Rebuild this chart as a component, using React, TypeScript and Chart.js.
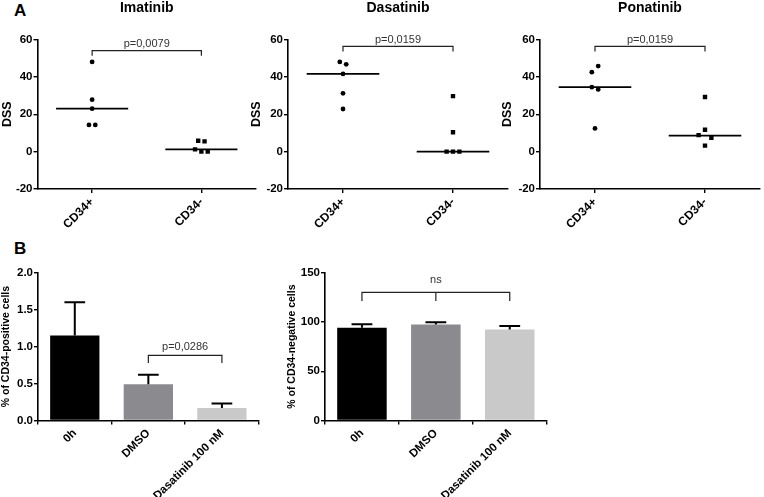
import React, { useEffect, useRef } from "react";
import { Chart, registerables } from "chart.js";

Chart.register(...registerables);

// ---------- Data (panel A: drug sensitivity scores) ----------
const DSS_GROUPS = ["CD34+", "CD34-"];
const DSS_TICKS = [-20, 0, 20, 40, 60];

const IMATINIB_CD34_POS = [48, 27.8, 23, 14.3, 14.3];
const IMATINIB_CD34_NEG = [5.8, 5.5, 1.2, 0, 0];
const IMATINIB_MEDIANS = [23, 1.2];

const DASATINIB_CD34_POS = [48, 46.7, 41.6, 31.2, 22.8];
const DASATINIB_CD34_NEG = [29.7, 10.4, 0, 0, 0];
const DASATINIB_MEDIANS = [41.6, 0];

const PONATINIB_CD34_POS = [42.5, 45.8, 34.5, 33.3, 12.4];
const PONATINIB_CD34_NEG = [29.2, 8.8, 11.7, 7.4, 3.2];
const PONATINIB_MEDIANS = [34.5, 8.6];

const DSS_P_LABELS = ["p=0,0079", "p=0,0159", "p=0,0159"];
const DSS_BRACKET_Y = [54, 56.3, 56.3];

// ---------- Data (panel B: % of cells) ----------
const TREATMENTS = ["0h", "DMSO", "Dasatinib 100 nM"];
const CD34_POS_PCT = [1.15, 0.49, 0.17];
const CD34_POS_ERR = [0.45, 0.13, 0.06];
const CD34_POS_TICKS = [0, 0.5, 1, 1.5, 2];
const CD34_NEG_PCT = [94.2, 97.5, 92.4];
const CD34_NEG_ERR = [3.5, 2.3, 3.6];
const CD34_NEG_TICKS = [0, 50, 100, 150];

const FONT = "'Liberation Sans', Arial, Helvetica, sans-serif";
const BAR_COLORS = ["#000000", "#8b8b8f", "#c9c9c9"];

Chart.defaults.font.family = FONT;
Chart.defaults.color = "#000";

type Bracket = { from: number; to: number; y: number; label: string; drop: number; gap: number; mid?: boolean };

function xPixel(chart: any, idx: number) {
  const xs = chart.scales.x;
  return xs.type === "category" ? xs.getPixelForValue(idx) : xs.getPixelForValue(idx + 1);
}

function bracketPlugin(items: Bracket[]) {
  return {
    id: "brackets",
    afterDatasetsDraw(chart: any) {
      const { ctx } = chart;
      const ys = chart.scales.y;
      ctx.save();
      items.forEach((b) => {
        const x1 = xPixel(chart, b.from);
        const x2 = xPixel(chart, b.to);
        const y = ys.getPixelForValue(b.y);
        ctx.strokeStyle = "#222";
        ctx.lineWidth = 1.2;
        ctx.beginPath();
        ctx.moveTo(x1, y + b.drop);
        ctx.lineTo(x1, y);
        ctx.lineTo(x2, y);
        ctx.lineTo(x2, y + b.drop);
        if (b.mid) {
          const xm = (x1 + x2) / 2;
          ctx.moveTo(xm, y);
          ctx.lineTo(xm, y + b.drop);
        }
        ctx.stroke();
        ctx.fillStyle = "#333";
        ctx.font = `11px ${FONT}`;
        ctx.textAlign = "center";
        ctx.textBaseline = "middle";
        ctx.fillText(b.label, (x1 + x2) / 2, y - b.gap);
      });
      ctx.restore();
    },
  };
}

function errorBarPlugin(errors: number[], values: number[]) {
  return {
    id: "errorbars",
    afterDatasetsDraw(chart: any) {
      const { ctx } = chart;
      const ys = chart.scales.y;
      const meta = chart.getDatasetMeta(0);
      ctx.save();
      ctx.strokeStyle = "#000";
      ctx.lineWidth = 2;
      meta.data.forEach((bar: any, i: number) => {
        const top = ys.getPixelForValue(values[i] + errors[i]);
        const half = bar.width * 0.21;
        ctx.beginPath();
        ctx.moveTo(bar.x, bar.y);
        ctx.lineTo(bar.x, top);
        ctx.moveTo(bar.x - half, top);
        ctx.lineTo(bar.x + half, top);
        ctx.stroke();
      });
      ctx.restore();
    },
  };
}

// spread points with nearly equal values sideways (like a column scatter)
function jitter(values: number[], center: number) {
  const STEP = 0.058;
  const THRESH = 3.5;
  const order = values.map((v, i) => i).sort((a, b) => values[b] - values[a]);
  const clusters: number[][] = [];
  order.forEach((i) => {
    const last = clusters[clusters.length - 1];
    if (last && Math.abs(values[last[last.length - 1]] - values[i]) < THRESH) last.push(i);
    else clusters.push([i]);
  });
  const xs = new Array(values.length).fill(center);
  clusters.forEach((c) => {
    const sorted = [...c].sort((a, b) => a - b);
    sorted.forEach((idx, k) => {
      xs[idx] = center + (k - (sorted.length - 1) / 2) * STEP;
    });
  });
  return values.map((v, i) => ({ x: xs[i], y: v }));
}

function axisBase() {
  return {
    border: { display: true, color: "#000", width: 1.6 },
    grid: { drawOnChartArea: false, drawTicks: true, tickLength: 4, color: "#000", lineWidth: 1.4 },
  };
}

function dssConfig(title: string, pos: number[], neg: number[], medians: number[], pLabel: string, bracketY: number, yWidth: number): any {
  const HALF = 0.33;
  const medianSets = medians.map((m, i) => ({
    type: "scatter",
    data: [
      { x: i + 1 - HALF, y: m },
      { x: i + 1 + HALF, y: m },
    ],
    showLine: true,
    borderColor: "#000",
    borderWidth: 1.8,
    pointRadius: 0,
  }));
  return {
    type: "scatter",
    data: {
      datasets: [
        { data: jitter(pos, 1), pointStyle: "circle", radius: 2.4, backgroundColor: "#000", borderWidth: 0 },
        { data: jitter(neg, 2), pointStyle: "rect", radius: 3.1, backgroundColor: "#000", borderWidth: 0 },
        ...medianSets,
      ],
    },
    options: {
      responsive: false,
      animation: false,
      events: [],
      layout: { padding: { left: 0, right: 2, top: 0, bottom: 0 } },
      plugins: {
        legend: { display: false },
        tooltip: { enabled: false },
        title: {
          display: true,
          text: title,
          fullSize: false,
          font: { size: 14, weight: "bold", lineHeight: 1.2 },
          color: "#000",
          padding: { top: 0, bottom: 22.7 },
        },
      },
      scales: {
        x: {
          type: "linear",
          min: 0.5,
          max: 2.5,
          ...axisBase(),
          afterBuildTicks: (s: any) => {
            s.ticks = DSS_GROUPS.map((_, i) => ({ value: i + 1 }));
          },
          afterFit: (s: any) => {
            s.height = 55;
          },
          ticks: {
            autoSkip: false,
            minRotation: 45,
            maxRotation: 45,
            padding: 2,
            font: { size: 12, weight: "bold" },
            callback: (v: any) => DSS_GROUPS[Math.round(v) - 1] ?? "",
          },
        },
        y: {
          type: "linear",
          min: DSS_TICKS[0],
          max: DSS_TICKS[DSS_TICKS.length - 1],
          ...axisBase(),
          afterFit: (s: any) => {
            s.width = yWidth;
          },
          ticks: { autoSkip: false, stepSize: DSS_TICKS[1] - DSS_TICKS[0], padding: 1, font: { size: 11.5, weight: "bold" } },
          title: { display: true, text: "DSS", font: { size: 12.5, weight: "bold", lineHeight: 1.2 }, padding: 0 },
        },
      },
    },
    plugins: [bracketPlugin([{ from: 0, to: 1, y: bracketY, label: pLabel, drop: 5, gap: 6.5 }])],
  };
}

function barConfig(values: number[], errors: number[], ticks: number[], yTitle: string, decimals: number, brackets: Bracket[], yWidth: number): any {
  return {
    type: "bar",
    data: {
      labels: TREATMENTS,
      datasets: [
        {
          data: values,
          backgroundColor: BAR_COLORS,
          borderWidth: 0,
          barPercentage: 0.67,
          categoryPercentage: 1,
        },
      ],
    },
    options: {
      responsive: false,
      animation: false,
      events: [],
      layout: { padding: { left: 0, right: 2.3, top: 22.7, bottom: 0 } },
      plugins: { legend: { display: false }, tooltip: { enabled: false } },
      scales: {
        x: {
          ...axisBase(),
          afterFit: (s: any) => {
            s.height = 76.5;
          },
          ticks: {
            autoSkip: false,
            minRotation: 45,
            maxRotation: 45,
            padding: 2,
            font: { size: 11.5, weight: "bold" },
          },
        },
        y: {
          type: "linear",
          min: ticks[0],
          max: ticks[ticks.length - 1],
          ...axisBase(),
          afterFit: (s: any) => {
            s.width = yWidth;
          },
          ticks: {
            autoSkip: false,
            stepSize: ticks[1] - ticks[0],
            padding: 1,
            font: { size: 11.5, weight: "bold" },
            callback: (v: any) => Number(v).toFixed(decimals),
          },
          title: { display: true, text: yTitle, font: { size: 10.5, weight: "bold", lineHeight: 1.2 }, padding: 0 },
        },
      },
    },
    plugins: [errorBarPlugin(errors, values), bracketPlugin(brackets)],
  };
}

function ChartBox({ left, top, width, height, config }: { left: number; top: number; width: number; height: number; config: () => any }) {
  const ref = useRef<HTMLCanvasElement>(null);
  useEffect(() => {
    if (!ref.current) return;
    const chart = new Chart(ref.current, config());
    return () => chart.destroy();
  }, []);
  return (
    <canvas
      ref={ref}
      width={width}
      height={height}
      style={{ position: "absolute", left, top, width, height, display: "block" }}
    />
  );
}

export default function App() {
  const letter: React.CSSProperties = {
    position: "absolute",
    left: 14,
    fontFamily: FONT,
    fontWeight: "bold",
    fontSize: 17,
    lineHeight: "17px",
    color: "#000",
  };
  return (
    <div style={{ position: "absolute", left: 0, top: 0, width: 764, height: 497, background: "#fff", overflow: "hidden" }}>
      <div style={{ ...letter, top: 2 }}>A</div>
      <div style={{ ...letter, top: 239.5 }}>B</div>
      <ChartBox
        left={0}
        top={0}
        width={260}
        height={244}
        config={() => dssConfig("Imatinib", IMATINIB_CD34_POS, IMATINIB_CD34_NEG, IMATINIB_MEDIANS, DSS_P_LABELS[0], DSS_BRACKET_Y[0], 37.5)}
      />
      <ChartBox
        left={249}
        top={0}
        width={263}
        height={244}
        config={() => dssConfig("Dasatinib", DASATINIB_CD34_POS, DASATINIB_CD34_NEG, DASATINIB_MEDIANS, DSS_P_LABELS[1], DSS_BRACKET_Y[1], 39)}
      />
      <ChartBox
        left={500}
        top={0}
        width={264}
        height={244}
        config={() => dssConfig("Ponatinib", PONATINIB_CD34_POS, PONATINIB_CD34_NEG, PONATINIB_MEDIANS, DSS_P_LABELS[2], DSS_BRACKET_Y[2], 40)}
      />
      <ChartBox
        left={0}
        top={250}
        width={261}
        height={247}
        config={() =>
          barConfig(CD34_POS_PCT, CD34_POS_ERR, CD34_POS_TICKS, "% of CD34-positive cells", 1, [
            { from: 1, to: 2, y: 0.88, label: "p=0,0286", drop: 7.5, gap: 8 },
          ], 38)
        }
      />
      <ChartBox
        left={286}
        top={250}
        width={263}
        height={247}
        config={() =>
          barConfig(CD34_NEG_PCT, CD34_NEG_ERR, CD34_NEG_TICKS, "% of CD34-negative cells", 0, [
            { from: 0, to: 2, y: 130, label: "ns", drop: 8.5, gap: 12.5, mid: true },
          ], 39)
        }
      />
    </div>
  );
}
